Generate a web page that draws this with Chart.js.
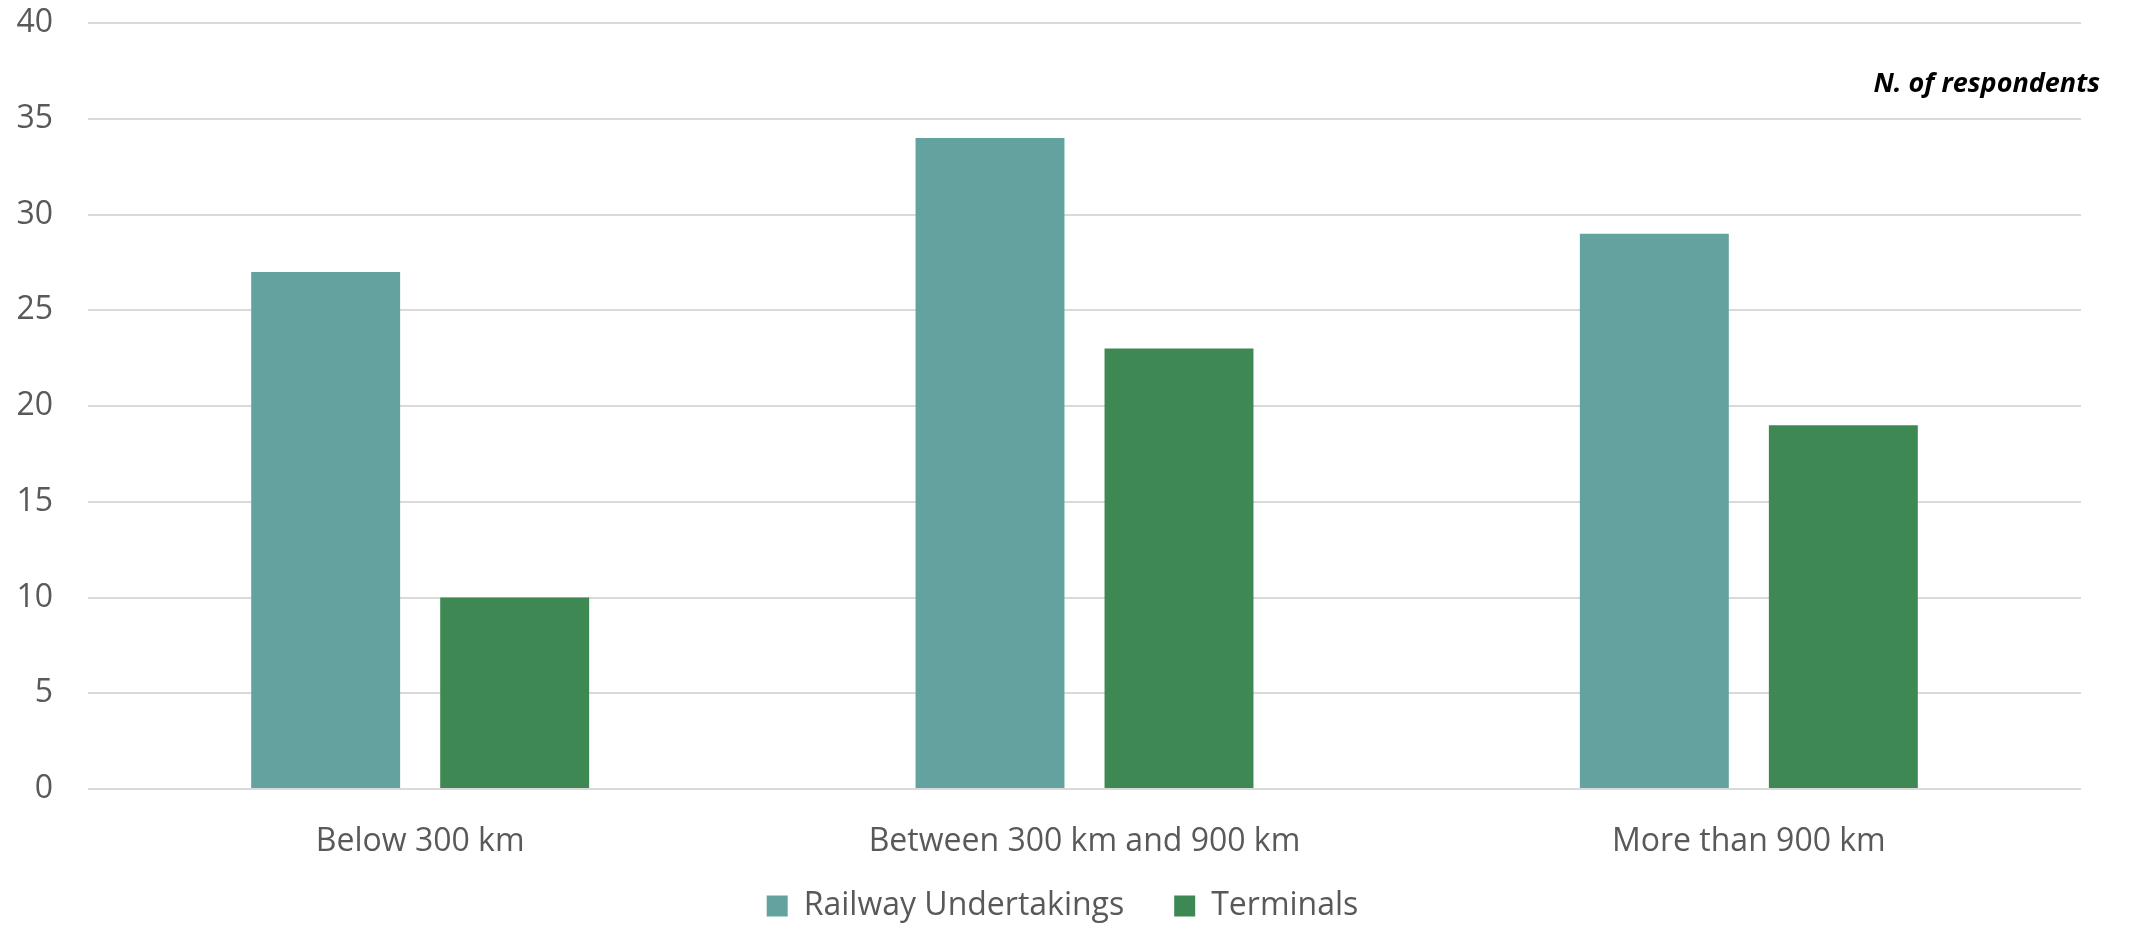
<!DOCTYPE html>
<html>
<head>
<meta charset="utf-8">
<script src="https://cdn.jsdelivr.net/npm/chart.js@4.4.1/dist/chart.umd.min.js"></script>
<style>
  html, body { margin: 0; padding: 0; background: #fff; }
  #wrap { width: 2129px; height: 925px; }
</style>
</head>
<body>
<div id="wrap"><canvas id="distChart" width="2129" height="925"></canvas></div>
<script>
const categorie = ["Below 300 km", "Between 300 km and 900 km", "More than 900 km"];
const railway = [27, 34, 29];
const terminals = [10, 23, 19];
const yTicks = [0, 5, 10, 15, 20, 25, 30, 35, 40];

// scritta in alto a destra
const notaRispondenti = {
    id: 'notaRispondenti',
    afterDraw(chart) {
        const ctx = chart.ctx;
        ctx.save();
        ctx.font = 'italic bold 27px "Open Sans"';
        ctx.fillStyle = '#000';
        ctx.textAlign = 'right';
        ctx.textBaseline = 'middle';
        ctx.fillText('N. of respondents', chart.width - 29, chart.chartArea.top + 61);
        ctx.restore();
    }
};

// etichette x non tagliate, legenda un po' a destra
const aggiustaLayout = {
    id: 'aggiustaLayout',
    afterLayout(chart) {
        chart.scales.x.bottom = chart.height;
        chart.legend.left += 22;
        chart.legend.right += 22;
    }
};

const ctx = document.getElementById("distChart");

const data = {
    labels: categorie,
    datasets: [
        {
            label: 'Railway Undertakings',
            data: railway,
            backgroundColor: '#62a39f',
            categoryPercentage: 0.569,
            barPercentage: 0.788,
        },
        {
            label: 'Terminals',
            data: terminals,
            backgroundColor: '#3e8853',
            categoryPercentage: 0.569,
            barPercentage: 0.788,
        }
    ]
};

const config = {
    type: 'bar',
    data: data,
    plugins: [notaRispondenti, aggiustaLayout],
    options: {
        responsive: false,
        animation: false,
        layout: {
            padding: { top: 23, right: 48, left: 0, bottom: 0 }
        },
        plugins: {
            legend: {
                position: 'bottom',
                maxHeight: 85,
                labels: {
                    color: '#595959',
                    font: { family: '"Open Sans"', size: 32 },
                    boxWidth: 21,
                    boxHeight: 21,
                    padding: 50,
                }
            },
            tooltip: { enabled: false }
        },
        scales: {
            x: {
                grid: { display: false },
                border: { display: false },
                afterFit: (scale) => { scale.height = 51; },
                ticks: {
                    color: '#595959',
                    font: { family: '"Open Sans"', size: 32 },
                    padding: 26,
                }
            },
            y: {
                min: 0,
                max: 40,
                afterBuildTicks: (scale) => {
                    scale.ticks = yTicks.map(v => ({ value: v }));
                },
                afterFit: (scale) => {
                    scale.width = 88;
                    scale.paddingTop = 0;
                    scale.paddingBottom = 0;
                },
                grid: { color: '#d9d9d9', lineWidth: 2, drawTicks: false },
                border: { display: false },
                ticks: {
                    color: '#595959',
                    font: { family: '"Open Sans"', size: 32 },
                    padding: 35,
                }
            }
        }
    }
};
window.barChart = new Chart(ctx, config);
</script>
</body>
</html>
